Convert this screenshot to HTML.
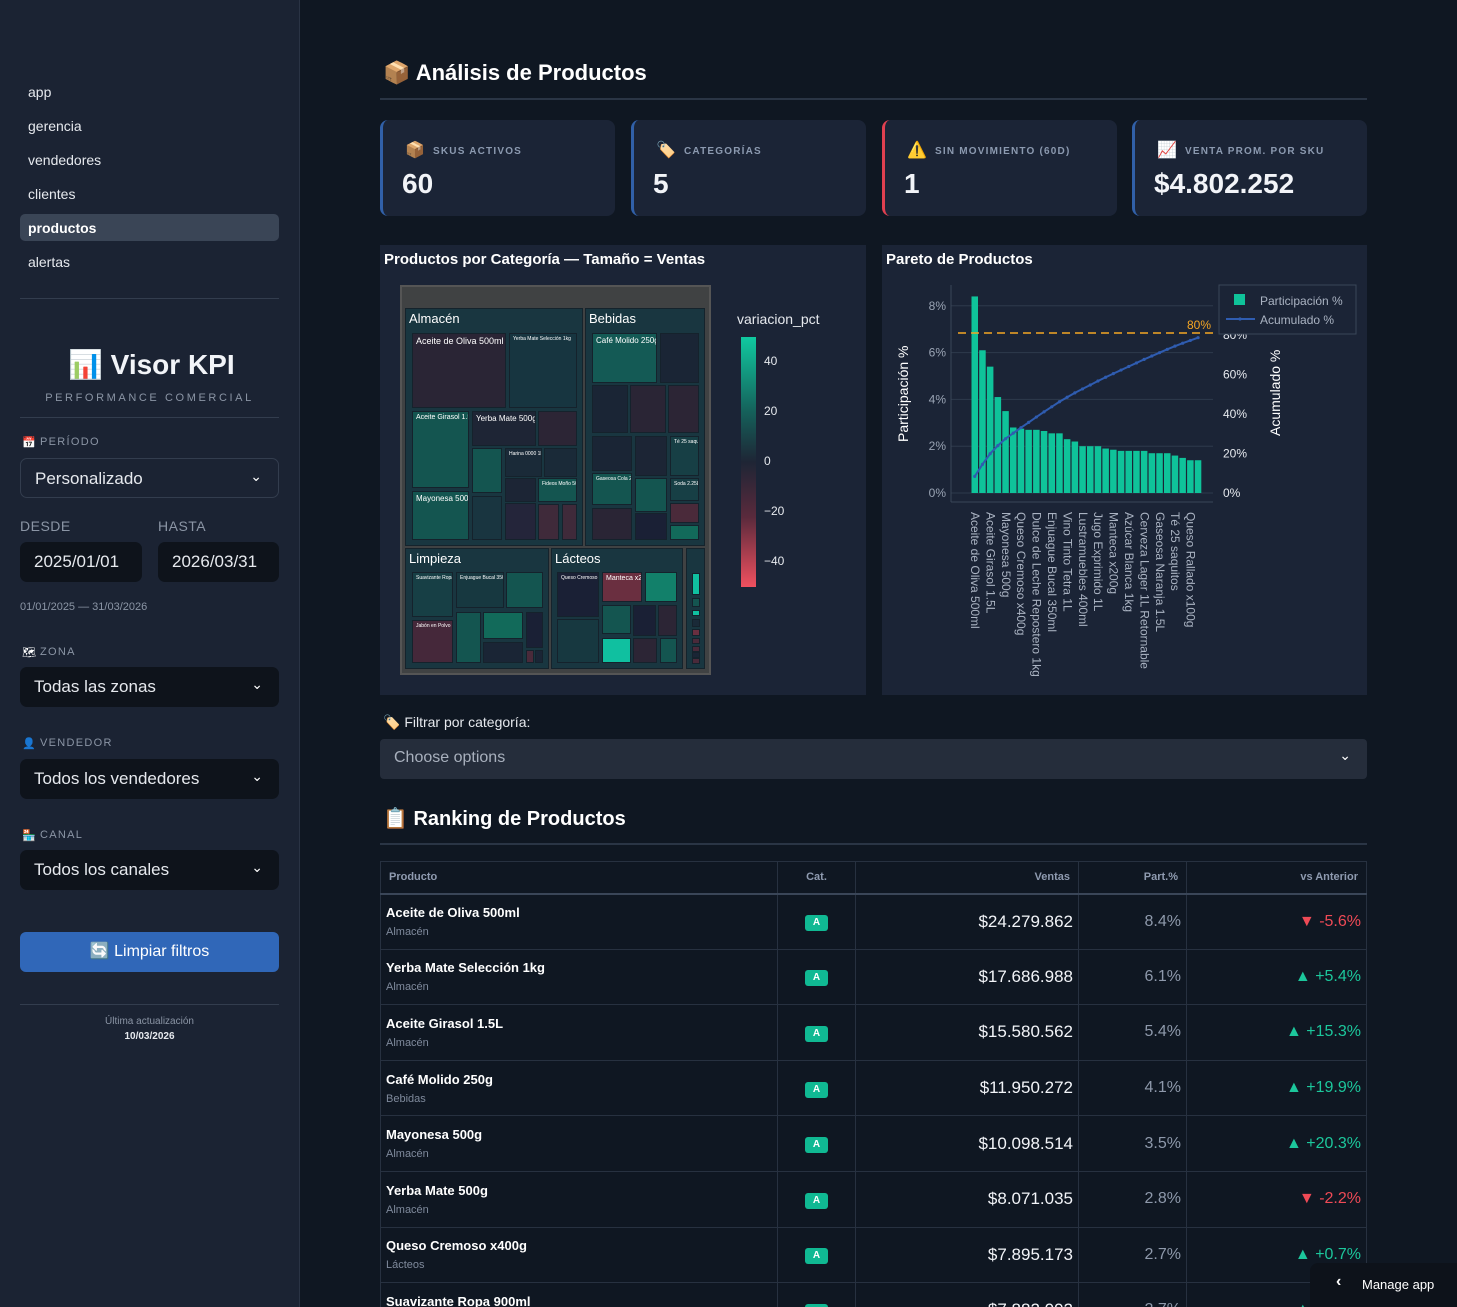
<!DOCTYPE html>
<html><head><meta charset="utf-8">
<style>
*{box-sizing:border-box;margin:0;padding:0}
html{width:1457px;height:1307px;overflow:hidden}
body{width:1457px;height:1307px;overflow:hidden;background:#0f1722;font-family:"Liberation Sans","Noto Sans CJK SC",sans-serif;color:#fff;position:relative}
.abs{position:absolute}
#sidebar{position:absolute;left:0;top:0;width:300px;height:1307px;background:#1b2333;border-right:1px solid #2a3344}
.nav{position:absolute;left:28px;font-size:14px;color:#e6e9ee}
.lbl{position:absolute;left:40px;font-size:11px;letter-spacing:1.3px;color:#8b95a5}
.sel{position:absolute;left:20px;width:259px;height:40px;border-radius:7px;background:#0e131b;font-size:17px;color:#e6e9ee;padding:10px 14px}
.sel .chev{position:absolute;right:16px;top:9px;font-size:14px;color:#fff}
.card{position:absolute;top:120px;width:235px;height:96px;background:#1b2436;border-radius:8px;border-left:3px solid #3160a8}
.card .t{position:absolute;left:50px;top:26px;font-size:10px;font-weight:bold;letter-spacing:1.2px;color:#8c9ab0}
.card .i{position:absolute;left:22px;top:20px;font-size:16px}
.card .v{position:absolute;left:19px;top:48px;font-size:28px;font-weight:bold;color:#f2f4f8}
.panel{position:absolute;top:245px;height:450px;background:#1b2436}
.ptitle{position:absolute;font-size:15px;font-weight:bold;color:#fff}
#tablewrap{position:absolute;left:380px;top:861px;width:987px;height:446px;overflow:hidden}
table{width:987px;border-collapse:collapse}
td,th{border:1px solid #273140;font-size:14px}
th{height:32px;font-size:11px;color:#8f9bb0;font-weight:bold;padding:0 8px;border-bottom:2px solid #3a4658}
td{height:55.6px;padding:0 5px}
.pn{font-weight:bold;font-size:13px;color:#fff}
.pc{font-size:11px;color:#7f8a9c;margin-top:6px}
.badge{display:inline-block;background:#10b993;color:#fff;font-size:10px;font-weight:bold;width:23px;height:16px;border-radius:3px;text-align:center;line-height:16px}
.num{text-align:right;font-size:17px;color:#f2f4f8}
.pp{text-align:right;font-size:16px;color:#8e99ab}
.up{text-align:right;font-size:16px;color:#1cc79c}
.dn{text-align:right;font-size:16px;color:#ef4a56}
</style></head><body>
<div id="sidebar">
  <div class="nav" style="top:84px">app</div>
  <div class="nav" style="top:118px">gerencia</div>
  <div class="nav" style="top:152px">vendedores</div>
  <div class="nav" style="top:186px">clientes</div>
  <div class="abs" style="left:20px;top:214px;width:259px;height:27px;background:#3a4556;border-radius:5px"></div>
  <div class="nav" style="top:220px;font-weight:bold;color:#fff">productos</div>
  <div class="nav" style="top:254px">alertas</div>
  <div class="abs" style="left:20px;top:298px;width:259px;height:1px;background:#333d4e"></div>
  <div class="abs" style="left:68px;top:348px;font-size:28px;font-weight:bold;color:#f2f4f8">📊 Visor KPI</div>
  <div class="abs" style="left:0;width:299px;text-align:center;top:392px;font-size:11px;letter-spacing:2.6px;color:#8b95a5">PERFORMANCE COMERCIAL</div>
  <div class="abs" style="left:20px;top:417px;width:259px;height:1px;background:#333d4e"></div>
  <div class="abs" style="left:22px;top:436px;font-size:11px">📅</div>
  <div class="lbl" style="top:436px">PERÍODO</div>
  <div class="sel" style="top:458px;background:#1b2333;border:1px solid #333d4e">Personalizado<span class="chev">⌄</span></div>
  <div class="abs" style="left:20px;top:518px;font-size:14px;color:#8b95a5;letter-spacing:.5px">DESDE</div>
  <div class="abs" style="left:158px;top:518px;font-size:14px;color:#8b95a5;letter-spacing:.5px">HASTA</div>
  <div class="sel" style="top:542px;width:122px">2025/01/01</div>
  <div class="sel" style="top:542px;left:158px;width:121px">2026/03/31</div>
  <div class="abs" style="left:20px;top:601px;font-size:11px;color:#8b95a5">01/01/2025 — 31/03/2026</div>
  <div class="abs" style="left:22px;top:646px;font-size:11px">🗺</div>
  <div class="lbl" style="top:646px">ZONA</div>
  <div class="sel" style="top:667px">Todas las zonas<span class="chev">⌄</span></div>
  <div class="abs" style="left:22px;top:737px;font-size:11px">👤</div>
  <div class="lbl" style="top:737px">VENDEDOR</div>
  <div class="sel" style="top:759px">Todos los vendedores<span class="chev">⌄</span></div>
  <div class="abs" style="left:22px;top:829px;font-size:11px">🏪</div>
  <div class="lbl" style="top:829px">CANAL</div>
  <div class="sel" style="top:850px">Todos los canales<span class="chev">⌄</span></div>
  <div class="abs" style="left:20px;top:932px;width:259px;height:40px;background:#3067b8;border-radius:6px;text-align:center;line-height:40px;font-size:16px;color:#fff">🔄 Limpiar filtros</div>
  <div class="abs" style="left:20px;top:1004px;width:259px;height:1px;background:#333d4e"></div>
  <div class="abs" style="left:0;width:299px;text-align:center;top:1016px;font-size:10px;color:#8b95a5">Última actualización</div>
  <div class="abs" style="left:0;width:299px;text-align:center;top:1031px;font-size:10px;font-weight:bold;color:#e6e9ee">10/03/2026</div>
</div>

<div class="abs" style="left:383px;top:60px;font-size:22px;font-weight:bold">📦 Análisis de Productos</div>
<div class="abs" style="left:380px;top:98px;width:987px;height:2px;background:#2a3545"></div>

<div class="card" style="left:380px"><span class="i">📦</span><span class="t">SKUS ACTIVOS</span><span class="v">60</span></div>
<div class="card" style="left:631px"><span class="i">🏷️</span><span class="t">CATEGORÍAS</span><span class="v">5</span></div>
<div class="card" style="left:882px;border-left-color:#e04050"><span class="i">⚠️</span><span class="t">SIN MOVIMIENTO (60D)</span><span class="v">1</span></div>
<div class="card" style="left:1132px"><span class="i">📈</span><span class="t">VENTA PROM. POR SKU</span><span class="v">$4.802.252</span></div>

<div class="panel" style="left:380px;width:486px"></div>
<div class="ptitle" style="left:384px;top:251px">Productos por Categoría — Tamaño = Ventas</div>
<div id="tm" class="abs" style="left:0;top:0"></div>
<div class="abs" style="left:737px;top:311px;font-size:14px;color:#e6e9ee">variacion_pct</div>
<div class="abs" style="left:741px;top:337px;width:15px;height:250px;background:linear-gradient(#10c9a0,#15605a 30%,#1e2535 50%,#5a2a3c 72%,#f0505f)"></div>
<div id="cb"></div>

<div class="panel" style="left:882px;width:485px"></div>
<div class="ptitle" style="left:886px;top:251px">Pareto de Productos</div>
<svg id="pareto" class="abs" style="left:0;top:0" width="1457" height="700"></svg>

<div class="abs" style="left:383px;top:714px;font-size:14px;color:#e6e9ee">🏷️ Filtrar por categoría:</div>
<div class="abs" style="left:380px;top:739px;width:987px;height:40px;background:#252d3b;border-radius:4px;font-size:16px;color:#a8b0bd;padding:10px 14px">Choose options<span style="position:absolute;right:16px;top:8px;color:#fff;font-size:14px">⌄</span></div>

<div class="abs" style="left:383px;top:806px;font-size:20px;font-weight:bold">📋 Ranking de Productos</div>
<div class="abs" style="left:380px;top:843px;width:987px;height:2px;background:#2a3545"></div>

<div id="tablewrap">
<table>
<tr><th style="width:397px;text-align:left">Producto</th><th style="width:78px">Cat.</th><th style="width:223px;text-align:right">Ventas</th><th style="width:108px;text-align:right">Part.%</th><th style="text-align:right">vs Anterior</th></tr>
<tbody id="tb"></tbody>
</table>
</div>

<div class="abs" style="left:1310px;top:1263px;width:147px;height:44px;background:#0d121a;border-radius:8px 0 0 0"><span style="position:absolute;left:26px;top:10px;font-size:16px;font-weight:bold">‹</span><span style="position:absolute;left:52px;top:14px;font-size:13px">Manage app</span></div>

<script>
// ---------- Pareto data ----------
const paretoLabels=["Aceite de Oliva 500ml","Aceite Girasol 1.5L","Mayonesa 500g","Queso Cremoso x400g","Dulce de Leche Repostero 1kg","Enjuague Bucal 350ml","Vino Tinto Tetra 1L","Lustramuebles 400ml","Jugo Exprimido 1L","Manteca x200g","Azúcar Blanca 1kg","Cerveza Lager 1L Retornable","Gaseosa Naranja 1.5L","Té 25 saquitos","Queso Rallado x100g"];
const paretoShare=[8.4,6.1,5.4,4.1,3.5,2.8,2.75,2.7,2.7,2.65,2.55,2.55,2.3,2.2,2.0,2.0,2.0,1.9,1.85,1.8,1.8,1.8,1.8,1.7,1.7,1.7,1.6,1.5,1.4,1.4];
const leftTicks=[0,2,4,6,8];
const rightTicks=[0,20,40,60,80];
const threshold=80;

const NS="http://www.w3.org/2000/svg";
const svg=document.getElementById('pareto');
function mk(tag,attrs,parent){const e=document.createElementNS(NS,tag);for(const k in attrs)e.setAttribute(k,attrs[k]);(parent||svg).appendChild(e);return e;}
const X0=951,X1=1213,Y0=493;
const yL=v=>Y0-v*23.4;
const yR=v=>Y0-v*1.975;
const step=7.7, bx=i=>971+i*step;
leftTicks.forEach(t=>{
  const g=mk('line',{x1:X0,x2:X1,y1:yL(t),y2:yL(t),stroke:'#2e3a4c','stroke-width':1});
  
  
  const tx=mk('text',{x:946,y:yL(t)+4,'text-anchor':'end','font-size':12,fill:'#9aa4b4'});tx.textContent=t+'%';
  
  
});
mk('line',{x1:X0,x2:X1,y1:502,y2:502,stroke:'#3a4658'});
mk('line',{x1:X0,x2:X0,y1:285,y2:502,stroke:'#3a4658'});
rightTicks.forEach(t=>{
  const tx=mk('text',{x:1223,y:yR(t)+4,'font-size':12,fill:'#e6e9ee'});tx.textContent=t+'%';
  
  
});
paretoShare.forEach((v,i)=>{
  const r=mk('rect',{x:bx(i)+0.5,y:yL(v),width:6.5,height:Y0-yL(v),fill:'#0fc39a'});
  
  
});
let cum=0;const pts=paretoShare.map((v,i)=>{cum+=v;return [bx(i)+3.75,yR(cum)];});
const pl=mk('polyline',{points:pts.map(p=>p.join(',')).join(' '),fill:'none',stroke:'#2f5cb0','stroke-width':2});


pts.forEach(p=>{const c=mk('circle',{cx:p[0],cy:p[1],r:1.6,fill:'#2f5cb0'});});
const dl=mk('line',{x1:X0+7,x2:1215,y1:yR(threshold)-2,y2:yR(threshold)-2,stroke:'#f5a623','stroke-width':1.5,'stroke-dasharray':'8,5'});


const tl=mk('text',{x:1211,y:yR(threshold)-6,'text-anchor':'end','font-size':12,fill:'#f5a623'});tl.textContent=threshold+'%';
paretoLabels.forEach((l,i)=>{
  const x=bx(i*2)+0;
  const t=mk('text',{x:0,y:0,'font-size':12,fill:'#aab3c2',transform:`translate(${x},512) rotate(90)`});t.textContent=l;
  
  
});
const yt=mk('text',{x:0,y:0,'font-size':14,fill:'#fff',transform:'translate(908,442) rotate(-90)'});yt.textContent='Participación %';

const yt2=mk('text',{x:0,y:0,'font-size':14,fill:'#fff',transform:'translate(1280,436) rotate(-90)'});yt2.textContent='Acumulado %';

const lg=mk('rect',{x:1219,y:285,width:137,height:49,fill:'#1b2436',stroke:'#3a4658'});

mk('rect',{x:1234,y:294,width:11,height:11,fill:'#0fc39a'});
const l1=mk('text',{x:1260,y:305,'font-size':12,fill:'#aab3c2'});l1.textContent='Participación %';

mk('line',{x1:1226,x2:1255,y1:319,y2:319,stroke:'#2f5cb0','stroke-width':2});mk('circle',{cx:1240,cy:319,r:1.6,fill:'#2f5cb0'});
const l2=mk('text',{x:1260,y:324,'font-size':12,fill:'#aab3c2'});l2.textContent='Acumulado %';


// ---------- Colorbar ----------
const cbTicks=[40,20,0,-20,-40];
const cb=document.getElementById('cb');
cbTicks.forEach(t=>{
  const d=document.createElement('div');d.className='abs';
  
  
  d.style.cssText=`left:764px;top:${454-t*2.5}px;font-size:12px;color:#e6e9ee`;
  d.textContent=(t<0?'−'+(-t):t);cb.appendChild(d);
});

// ---------- Treemap (layout traced) ----------
const tm=document.getElementById('tm');
function box(x1,y1,x2,y2,bg,label,fs,name,b){
  const d=document.createElement('div');d.className='abs';
  
  
  d.style.cssText=`left:${x1}px;top:${y1}px;width:${x2-x1}px;height:${y2-y1}px;background:${bg};border:${b||'1px solid #15222c'};overflow:hidden;white-space:nowrap;color:#fff;font-size:${fs||5}px;padding:2px 3px;line-height:1.2`;
  if(label)d.textContent=label;tm.appendChild(d);
}
box(400,285,711,675,'#404243','', 5,'treemap-root','2px solid #555');
const cats=[[405,308,583,546,'Almacén'],[585,308,705,546,'Bebidas'],[405,548,549,669,'Limpieza'],[551,548,683,669,'Lácteos'],[686,548,705,669,'']];
cats.forEach(c=>box(c[0],c[1],c[2],c[3],'#193640',c[4],13,'treemap-category','1px solid #15232c'));
const cells=[
[412,333,506,408,'#2a2535','Aceite de Oliva 500ml',9],[509,333,577,408,'#173540','Yerba Mate Selección 1kg',5],
[412,411,469,488,'#145550','Aceite Girasol 1.5L',7],[472,411,536,446,'#1e2535','Yerba Mate 500g',8],[538,411,577,446,'#2c2535','',5],
[472,448,502,493,'#145550','',5],[505,448,542,477,'#1a2a38','Harina 0000 1kg',5],[544,448,577,477,'#1a2a38','',5],
[505,478,536,502,'#1c2535','',5],[538,478,577,502,'#145550','Fideos Moño 500g',5],[412,491,469,540,'#145550','Mayonesa 500g',8],
[472,496,502,540,'#193540','',5],[505,503,536,540,'#24253a','',5],[538,504,559,540,'#3f2a3a','',5],[562,504,577,540,'#3f2a3a','',5],
[592,333,657,383,'#145a55','Café Molido 250g',8],[660,333,699,383,'#1a2535','',5],[592,385,628,433,'#1a2535','',5],
[630,385,666,433,'#2a2535','',5],[668,385,699,433,'#2c2535','',5],[592,436,632,471,'#1a2535','',5],[635,436,667,476,'#1c2535','',5],
[670,436,699,476,'#173f45','Té 25 saquitos',5],[592,473,632,505,'#145550','Gaseosa Cola 2.25L',5],[635,478,667,512,'#145550','',5],
[670,478,699,501,'#173f45','Soda 2.25L',5],[592,508,632,540,'#2a2535','',5],[635,513,667,540,'#1a2035','',5],
[670,503,699,523,'#4a2a3a','',5],[670,525,699,540,'#126a5a','',5],
[412,572,453,617,'#173f45','Suavizante Ropa',5],[456,572,504,608,'#173840','Enjuague Bucal 350ml',5],[506,572,543,608,'#145550','',5],
[412,620,453,663,'#45283a','Jabón en Polvo 3kg',5],[456,612,481,663,'#145550','',5],[483,612,523,639,'#126a5a','',5],
[483,642,523,663,'#1a2535','',5],[526,612,543,648,'#1a2035','',5],[526,650,533,663,'#4a2a3a','',5],[535,650,543,663,'#1a2535','',5],
[557,572,599,617,'#1a2035','Queso Cremoso x400g',5],[602,572,642,602,'#6a2f40','Manteca x200g',7],[645,572,677,602,'#12806a','',5],
[557,619,599,663,'#173840','',5],[602,605,631,634,'#145550','',5],[633,605,656,636,'#1a2035','',5],[658,605,677,636,'#2c2535','',5],
[602,638,631,663,'#10c0a0','',5],[633,638,657,663,'#2c2535','',5],[660,638,677,663,'#145550','',5],
[692,573,699,595,'#10c0a0','',5],[692,598,699,607,'#145550','',5],[692,610,699,616,'#10c0a0','',5],[692,619,699,627,'#1a2a38','',5],
[692,629,699,636,'#6a2f40','',5],[692,638,699,644,'#4a2a3a','',5],[692,646,699,650,'#4a2a3a','',5],[692,652,699,657,'#1a2535','',5],[692,658,699,663,'#4a2a3a','',5]];
cells.forEach(c=>box(c[0],c[1],c[2],c[3],c[4],c[5],c[6]));

// ---------- Table ----------
const rowNames=["Aceite de Oliva 500ml","Yerba Mate Selección 1kg","Aceite Girasol 1.5L","Café Molido 250g","Mayonesa 500g","Yerba Mate 500g","Queso Cremoso x400g","Suavizante Ropa 900ml"];
const rowCats=["Almacén","Almacén","Almacén","Bebidas","Almacén","Almacén","Lácteos","Limpieza"];
const rowSales=["$24.279.862","$17.686.988","$15.580.562","$11.950.272","$10.098.514","$8.071.035","$7.895.173","$7.882.092"];
const rowPart=["8.4%","6.1%","5.4%","4.1%","3.5%","2.8%","2.7%","2.7%"];
const rowVar=[-5.6,5.4,15.3,19.9,20.3,-2.2,0.7,1.0];
const tb=document.getElementById('tb');
rowNames.forEach((n,i)=>{
  const tr=document.createElement('tr');
  
  
  const v=rowVar[i];
  tr.innerHTML=`<td><div class="pn">${n}</div><div class="pc">${rowCats[i]}</div></td><td style="text-align:center"><span class="badge">A</span></td><td class="num">${rowSales[i]}</td><td class="pp">${rowPart[i]}</td><td class="${v<0?'dn':'up'}">${v<0?'▼ ':'▲ +'}${v.toFixed(1)}%</td>`;
  tb.appendChild(tr);
});
</script>
</body></html>
